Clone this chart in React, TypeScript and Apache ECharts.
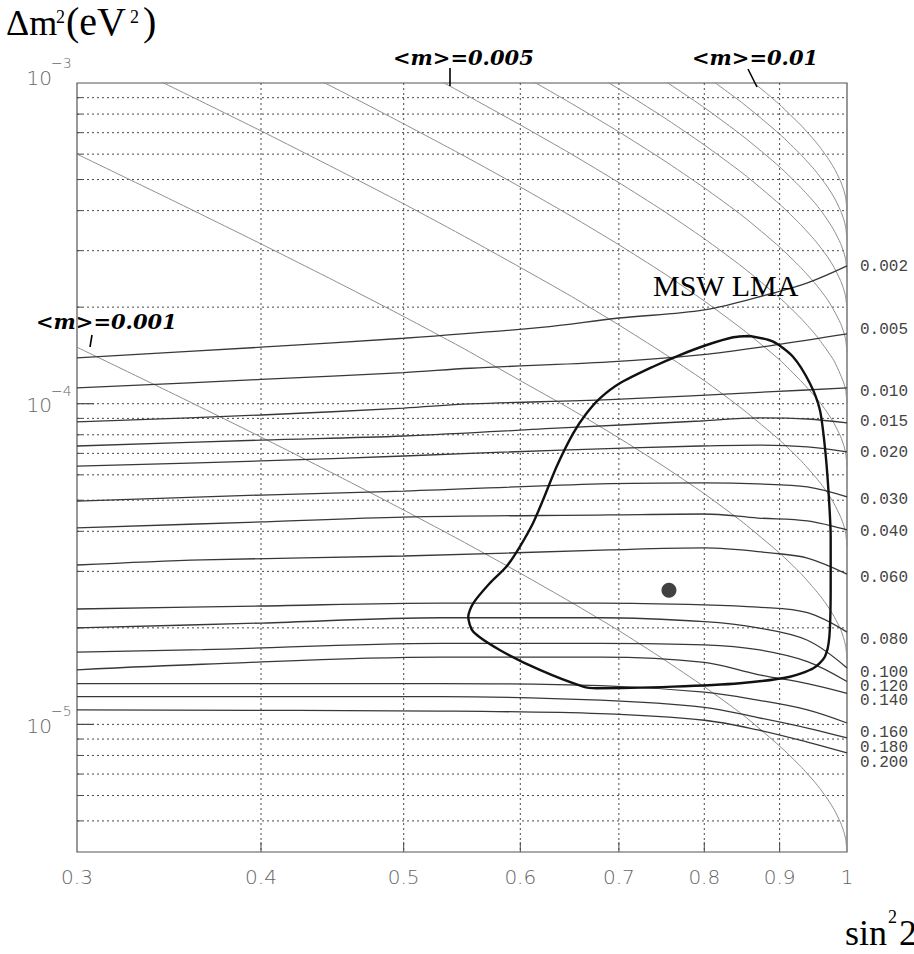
import { useEffect, useRef } from 'react';
import * as echarts from 'echarts';

// ---- axes -------------------------------------------------------------
const xRange = [0.3, 1];
const yRange = [4e-6, 1e-3];
const xTickValues = [0.3, 0.4, 0.5, 0.6, 0.7, 0.8, 0.9, 1];
const xTickLabels = ['0.3', '0.4', '0.5', '0.6', '0.7', '0.8', '0.9', '1'];
const yDecadeValues = [1e-5, 1e-4, 1e-3];
const yDecadeExponents = ['\u22125', '\u22124', '\u22123'];
const yMinorValues = [
  5e-6, 6e-6, 7e-6, 8e-6, 9e-6,
  2e-5, 3e-5, 4e-5, 5e-5, 6e-5, 7e-5, 8e-5, 9e-5,
  2e-4, 3e-4, 4e-4, 5e-4, 6e-4, 7e-4, 8e-4, 9e-4,
];

// ---- effective mass <m> contours: [sin^2 2theta, dm^2] -----------------
const mass001 = [[0.3, 1.5e-4], [0.35, 1.065e-4], [0.4, 7.87e-5], [0.45, 5.99e-5], [0.5, 4.66e-5], [0.55, 3.69e-5], [0.6, 2.96e-5], [0.65, 2.4e-5], [0.7, 1.96e-5], [0.75, 1.6e-5], [0.8, 1.31e-5], [0.85, 1.07e-5], [0.9, 8.56e-6], [0.93, 7.4e-6], [0.95, 6.64e-6], [0.96, 6.25e-6], [0.97, 5.85e-6], [0.98, 5.43e-6], [0.99, 4.94e-6], [0.995, 4.63e-6], [0.998, 4.38e-6], [1, 4.0e-6]];
const mass002 = [[0.3, 6.0e-4], [0.35, 4.26e-4], [0.4, 3.15e-4], [0.45, 2.4e-4], [0.5, 1.87e-4], [0.55, 1.48e-4], [0.6, 1.18e-4], [0.65, 9.59e-5], [0.7, 7.82e-5], [0.75, 6.4e-5], [0.8, 5.24e-5], [0.85, 4.26e-5], [0.9, 3.42e-5], [0.93, 2.96e-5], [0.95, 2.65e-5], [0.96, 2.5e-5], [0.97, 2.34e-5], [0.98, 2.17e-5], [0.99, 1.98e-5], [0.995, 1.85e-5], [0.998, 1.75e-5], [1, 1.6e-5]];
const mass003 = [[0.3, 1.35e-3], [0.35, 9.59e-4], [0.4, 7.09e-4], [0.45, 5.39e-4], [0.5, 4.2e-4], [0.55, 3.32e-4], [0.6, 2.66e-4], [0.65, 2.16e-4], [0.7, 1.76e-4], [0.75, 1.44e-4], [0.8, 1.18e-4], [0.85, 9.59e-5], [0.9, 7.7e-5], [0.93, 6.66e-5], [0.95, 5.97e-5], [0.96, 5.63e-5], [0.97, 5.27e-5], [0.98, 4.88e-5], [0.99, 4.44e-5], [0.995, 4.17e-5], [0.998, 3.94e-5], [1, 3.6e-5]];
const mass004 = [[0.4, 1.26e-3], [0.45, 9.59e-4], [0.5, 7.46e-4], [0.55, 5.91e-4], [0.6, 4.74e-4], [0.65, 3.84e-4], [0.7, 3.13e-4], [0.75, 2.56e-4], [0.8, 2.09e-4], [0.85, 1.7e-4], [0.9, 1.37e-4], [0.93, 1.18e-4], [0.95, 1.06e-4], [0.96, 1.0e-4], [0.97, 9.36e-5], [0.98, 8.68e-5], [0.99, 7.9e-5], [0.995, 7.41e-5], [0.998, 7.01e-5], [1, 6.4e-5]];
const mass005 = [[0.5, 1.17e-3], [0.55, 9.23e-4], [0.6, 7.4e-4], [0.65, 6.0e-4], [0.7, 4.89e-4], [0.75, 4.0e-4], [0.8, 3.27e-4], [0.85, 2.66e-4], [0.9, 2.14e-4], [0.93, 1.85e-4], [0.95, 1.66e-4], [0.96, 1.56e-4], [0.97, 1.46e-4], [0.98, 1.36e-4], [0.99, 1.23e-4], [0.995, 1.16e-4], [0.998, 1.1e-4], [1, 1.0e-4]];
const mass006 = [[0.6, 1.066e-3], [0.65, 8.63e-4], [0.7, 7.04e-4], [0.75, 5.76e-4], [0.8, 4.71e-4], [0.85, 3.84e-4], [0.9, 3.08e-4], [0.93, 2.66e-4], [0.95, 2.39e-4], [0.96, 2.25e-4], [0.97, 2.11e-4], [0.98, 1.95e-4], [0.99, 1.78e-4], [0.995, 1.67e-4], [0.998, 1.58e-4], [1, 1.44e-4]];
const mass007 = [[0.65, 1.175e-3], [0.7, 9.58e-4], [0.75, 7.84e-4], [0.8, 6.41e-4], [0.85, 5.22e-4], [0.9, 4.19e-4], [0.93, 3.62e-4], [0.95, 3.25e-4], [0.96, 3.06e-4], [0.97, 2.87e-4], [0.98, 2.66e-4], [0.99, 2.42e-4], [0.995, 2.27e-4], [0.998, 2.15e-4], [1, 1.96e-4]];
const mass008 = [[0.75, 1.024e-3], [0.8, 8.38e-4], [0.85, 6.82e-4], [0.9, 5.48e-4], [0.93, 4.73e-4], [0.95, 4.25e-4], [0.96, 4.0e-4], [0.97, 3.74e-4], [0.98, 3.47e-4], [0.99, 3.16e-4], [0.995, 2.96e-4], [0.998, 2.81e-4], [1, 2.56e-4]];
const mass009 = [[0.8, 1.06e-3], [0.85, 8.63e-4], [0.9, 6.93e-4], [0.93, 5.99e-4], [0.95, 5.38e-4], [0.96, 5.06e-4], [0.97, 4.74e-4], [0.98, 4.4e-4], [0.99, 4.0e-4], [0.995, 3.75e-4], [0.998, 3.55e-4], [1, 3.24e-4]];
const mass010 = [[0.85, 1.066e-3], [0.88, 9.36e-4], [0.9, 8.56e-4], [0.93, 7.4e-4], [0.95, 6.64e-4], [0.96, 6.25e-4], [0.97, 5.85e-4], [0.98, 5.43e-4], [0.99, 4.94e-4], [0.995, 4.63e-4], [0.998, 4.38e-4], [1, 4.0e-4]];
const massLines = [mass001, mass002, mass003, mass004, mass005, mass006, mass007, mass008, mass009, mass010];

// ---- labelled contours (values printed at the right edge) ---------------
const contourLabels = ['0.002', '0.005', '0.010', '0.015', '0.020', '0.030', '0.040', '0.060', '0.080', '0.100', '0.120', '0.140', '0.160', '0.180', '0.200'];
const c002 = [[0.3, 1.39e-4], [0.4, 1.5e-4], [0.5, 1.6e-4], [0.62, 1.73e-4], [0.7, 1.85e-4], [0.8, 1.96e-4], [0.89, 2.21e-4], [0.94, 2.38e-4], [1, 2.69e-4]];
const c005 = [[0.3, 1.12e-4], [0.4, 1.19e-4], [0.5, 1.25e-4], [0.555, 1.29e-4], [0.69, 1.35e-4], [0.795, 1.42e-4], [0.89, 1.52e-4], [1, 1.65e-4]];
const c010 = [[0.3, 8.77e-5], [0.4, 9.22e-5], [0.5, 9.69e-5], [0.555, 9.98e-5], [0.69, 1.03e-4], [0.89, 1.09e-4], [1, 1.12e-4]];
const c015 = [[0.3, 7.38e-5], [0.4, 7.7e-5], [0.5, 7.93e-5], [0.64, 8.4e-5], [0.795, 8.83e-5], [0.87, 9.03e-5], [0.94, 8.96e-5], [1, 8.71e-5]];
const c020 = [[0.3, 6.39e-5], [0.4, 6.63e-5], [0.5, 6.87e-5], [0.64, 7.17e-5], [0.795, 7.38e-5], [0.87, 7.43e-5], [0.94, 7.33e-5], [1, 7.07e-5]];
const c030 = [[0.3, 4.97e-5], [0.4, 5.19e-5], [0.5, 5.34e-5], [0.68, 5.62e-5], [0.8, 5.66e-5], [0.87, 5.62e-5], [0.94, 5.5e-5], [1, 5.12e-5]];
const c040 = [[0.3, 4.1e-5], [0.4, 4.28e-5], [0.5, 4.43e-5], [0.69, 4.5e-5], [0.8, 4.53e-5], [0.87, 4.4e-5], [0.94, 4.31e-5], [1, 4.04e-5]];
const c060 = [[0.3, 3.14e-5], [0.365, 3.26e-5], [0.5, 3.35e-5], [0.69, 3.5e-5], [0.8, 3.55e-5], [0.89, 3.42e-5], [0.94, 3.3e-5], [1, 2.94e-5]];
const c080 = [[0.3, 2.29e-5], [0.4, 2.34e-5], [0.53, 2.39e-5], [0.68, 2.39e-5], [0.8, 2.36e-5], [0.87, 2.32e-5], [0.94, 2.23e-5], [1, 1.94e-5]];
const c100 = [[0.3, 2.0e-5], [0.4, 2.07e-5], [0.53, 2.15e-5], [0.68, 2.15e-5], [0.8, 2.09e-5], [0.87, 2.0e-5], [0.94, 1.83e-5], [1, 1.5e-5]];
const c120 = [[0.3, 1.68e-5], [0.365, 1.71e-5], [0.53, 1.79e-5], [0.68, 1.79e-5], [0.8, 1.77e-5], [0.87, 1.71e-5], [0.94, 1.57e-5], [1, 1.36e-5]];
const c140 = [[0.3, 1.48e-5], [0.365, 1.54e-5], [0.53, 1.62e-5], [0.68, 1.62e-5], [0.8, 1.56e-5], [0.87, 1.43e-5], [0.94, 1.34e-5], [1, 1.25e-5]];
const c160 = [[0.3, 1.34e-5], [0.53, 1.34e-5], [0.68, 1.32e-5], [0.8, 1.26e-5], [0.87, 1.19e-5], [0.94, 1.11e-5], [1, 1.01e-5]];
const c180 = [[0.3, 1.22e-5], [0.53, 1.22e-5], [0.68, 1.19e-5], [0.8, 1.13e-5], [0.87, 1.05e-5], [0.94, 9.74e-6], [1, 9.07e-6]];
const c200 = [[0.3, 1.11e-5], [0.53, 1.1e-5], [0.68, 1.08e-5], [0.8, 1.03e-5], [0.87, 9.61e-6], [0.94, 8.81e-6], [1, 8.15e-6]];
const contourLines = [c002, c005, c010, c015, c020, c030, c040, c060, c080, c100, c120, c140, c160, c180, c200];

// ---- MSW LMA region and best-fit point ---------------------------------
const mswLma = [
  [0.859, 1.626e-4], [0.891, 1.561e-4], [0.919, 1.401e-4], [0.9436, 1.158e-4], [0.9585, 9.56e-5],
  [0.966, 7.34e-5], [0.971, 5.51e-5], [0.9748, 3.85e-5], [0.9748, 2.69e-5], [0.9728, 1.877e-5],
  [0.966, 1.626e-5], [0.9487, 1.496e-5], [0.9147, 1.408e-5], [0.8457, 1.343e-5], [0.762, 1.311e-5],
  [0.676, 1.296e-5], [0.662, 1.311e-5], [0.6186, 1.478e-5], [0.581, 1.706e-5], [0.5574, 1.946e-5],
  [0.5531, 2.167e-5], [0.5574, 2.385e-5], [0.572, 2.754e-5], [0.587, 3.1e-5], [0.5995, 3.58e-5],
  [0.612, 4.24e-5], [0.6217, 5.01e-5], [0.635, 6.36e-5], [0.6517, 8.08e-5], [0.6655, 9.33e-5],
  [0.6795, 1.039e-4], [0.701, 1.158e-4], [0.7383, 1.304e-4], [0.77, 1.418e-4], [0.803, 1.524e-4],
  [0.837, 1.611e-4], [0.859, 1.626e-4],
];
const bestFit = [[0.757, 2.62e-5]];

// ---- layout of the right-hand value labels (pixels) ---------------------
// single labels: [index, centre y]; stacked blocks: [first, last, centre y, line height]
const contourLabelSingles = [[0, 266.7], [1, 330], [2, 391.7], [3, 421.7], [4, 453.3], [5, 500], [6, 531.7], [7, 578.3], [8, 640]];
const contourLabelBlocks = [[9, 11, 687, 14.2], [12, 14, 748.3, 15]];

const SERIF = '"Liberation Serif", "Times New Roman", serif';
const LABEL_FONT = 'italic bold 21px "DejaVu Serif", serif';
const TICK_FONT = '200 20px "DejaVu Sans", sans-serif';
const EXP_FONT = '200 14px "DejaVu Sans", sans-serif';
const MONO_FONT = '16px "Liberation Mono", "DejaVu Sans Mono", monospace';

function txt(text: string, x: number, y: number, font: string, fill: string, align = 'left', lineHeight?: number) {
  const style: any = { text, font, fill, align, textAlign: align, verticalAlign: 'middle', textVerticalAlign: 'middle' };
  if (lineHeight) style.lineHeight = lineHeight;
  return { type: 'text', x, y, z: 50, silent: true, style };
}

function seg(x1: number, y1: number, x2: number, y2: number, stroke: string, lineWidth: number, lineDash?: number[], z = 1) {
  return {
    type: 'line',
    z,
    silent: true,
    shape: { x1, y1, x2, y2 },
    style: { stroke, lineWidth, lineDash: lineDash || null },
  };
}

function overlay(chart: any) {
  const toPx = (x: number, y: number) => chart.convertToPixel({ gridIndex: 0 }, [x, y]) as number[];
  const [left, bottom] = toPx(xRange[0], yRange[0]);
  const [right, top] = toPx(xRange[1], yRange[1]);
  const els: any[] = [];
  const dots = [2, 3];
  const axisGrey = '#4a4a4a';

  // vertical grid, ticks and labels
  xTickValues.forEach((v, i) => {
    const x = toPx(v, yRange[0])[0];
    if (v > xRange[0] && v < xRange[1]) {
      els.push(seg(x, top, x, bottom, axisGrey, 1, dots, 0));
      els.push(seg(x, bottom, x, bottom - 10, axisGrey, 1));
    }
    els.push(txt(xTickLabels[i], x, bottom + 25, TICK_FONT, '#666', 'center'));
  });

  // horizontal grid and minor ticks
  yMinorValues.forEach((v) => {
    const y = toPx(xRange[0], v)[1];
    els.push(seg(left, y, right, y, axisGrey, 1, dots, 0));
    els.push(seg(left, y, left + 5, y, axisGrey, 1));
  });

  // decades: grid, long ticks, "10^n" labels
  yDecadeValues.forEach((v, i) => {
    const y = toPx(xRange[0], v)[1];
    const atTop = Math.abs(y - top) < 1;
    if (!atTop) {
      els.push(seg(left, y, right, y, axisGrey, 1, dots, 0));
      els.push(seg(left, y, left + 17, y, axisGrey, 1.2));
    }
    const shift = atTop ? -7 : 0;
    els.push(txt('10', 52, y + 1.5 + shift, TICK_FONT, '#666', 'right'));
    els.push(txt(yDecadeExponents[i], 51, y - 13 + shift, EXP_FONT, '#666', 'left'));
  });

  // contour value labels on the right
  contourLabelSingles.forEach(([i, y]) => {
    els.push(txt(contourLabels[i], right + 13, y, MONO_FONT, '#444', 'left'));
  });
  contourLabelBlocks.forEach(([a, b, y, lh]) => {
    els.push(txt(contourLabels.slice(a, b + 1).join('\n'), right + 13, y, MONO_FONT, '#444', 'left', lh));
  });

  // <m> labels with their pointers
  els.push(txt('<m>=0.005', 393, 57, LABEL_FONT, '#000'));
  els.push(seg(450, 68, 450, 86, '#000', 1.6, undefined, 40));
  els.push(txt('<m>=0.01', 692, 57, LABEL_FONT, '#000'));
  els.push(seg(748, 69, 757, 87, '#000', 1.6, undefined, 40));
  els.push(txt('<m>=0.001', 36, 321, LABEL_FONT, '#000'));
  els.push(seg(92, 335, 90, 347, '#000', 1.6, undefined, 40));

  // region name
  els.push(txt('MSW LMA', 653, 285, `30px ${SERIF}`, '#000'));

  // axis titles
  els.push(txt('\u0394m', 6, 23, `36px ${SERIF}`, '#000'));
  els.push(txt('2', 56, 17, `18px ${SERIF}`, '#000'));
  els.push(txt('(eV', 66, 21.5, `40px ${SERIF}`, '#000'));
  els.push(txt('2', 130, 17, `18px ${SERIF}`, '#000'));
  els.push(txt(')', 143, 21.5, `40px ${SERIF}`, '#000'));

  els.push(txt('sin', 845, 933, `36px ${SERIF}`, '#000'));
  els.push(txt('2', 888, 917, `18px ${SERIF}`, '#000'));
  els.push(txt('2', 899, 933, `36px ${SERIF}`, '#000'));

  return els;
}

export default function App() {
  const ref = useRef<HTMLDivElement>(null);

  useEffect(() => {
    if (!ref.current) return;
    const chart = echarts.init(ref.current, null, { renderer: 'svg' });

    const line = (data: number[][], color: string, width: number, z: number, smooth: number) => ({
      type: 'line',
      data,
      symbol: 'none',
      showSymbol: false,
      clip: true,
      silent: true,
      smooth,
      z,
      lineStyle: { color, width },
    });

    chart.setOption({
      animation: false,
      backgroundColor: '#fff',
      grid: {
        left: 77,
        top: 83,
        right: 67,
        bottom: 102,
        show: true,
        borderColor: '#555',
        borderWidth: 1.2,
        backgroundColor: 'transparent',
        containLabel: false,
      },
      xAxis: {
        type: 'log',
        logBase: 10,
        min: xRange[0],
        max: xRange[1],
        axisLine: { show: false },
        axisTick: { show: false },
        axisLabel: { show: false },
        splitLine: { show: false },
      },
      yAxis: {
        type: 'log',
        logBase: 10,
        min: yRange[0],
        max: yRange[1],
        axisLine: { show: false },
        axisTick: { show: false },
        axisLabel: { show: false },
        splitLine: { show: false },
      },
      series: [
        ...massLines.map((d) => line(d, '#8e8e8e', 1, 2, 0.2)),
        ...contourLines.map((d) => line(d, '#383838', 1.3, 3, 0.35)),
        line(mswLma, '#111', 2.4, 4, 0.25),
        {
          type: 'scatter',
          data: bestFit,
          symbol: 'circle',
          symbolSize: 15,
          silent: true,
          z: 5,
          itemStyle: { color: '#111' },
        },
      ],
    });

    chart.setOption({ graphic: { elements: overlay(chart) } });

    return () => chart.dispose();
  }, []);

  return <div ref={ref} style={{ position: 'fixed', left: 0, top: 0, width: 914, height: 954 }} />;
}
